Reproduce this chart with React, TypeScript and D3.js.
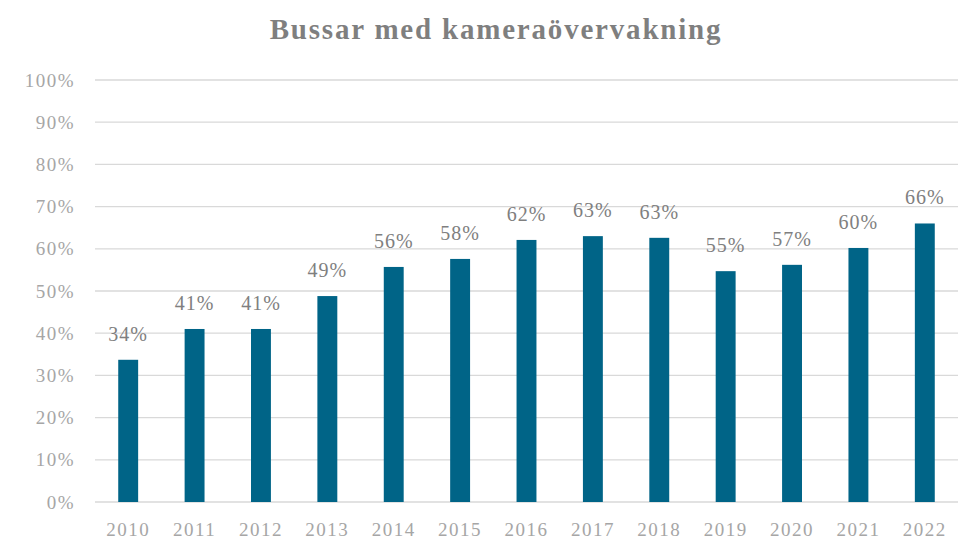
import React from "react";
import * as d3 from "d3";

const years = ["2010","2011","2012","2013","2014","2015","2016","2017","2018","2019","2020","2021","2022"];
const values = [33.7, 41.0, 41.0, 48.8, 55.7, 57.6, 62.1, 63.0, 62.6, 54.7, 56.2, 60.2, 66.0];
const labels = ["34%","41%","41%","49%","56%","58%","62%","63%","63%","55%","57%","60%","66%"];
const yTicks = [0,10,20,30,40,50,60,70,80,90,100];

const W = 960, H = 542;
const left = 95, right = 958, top = 80, bottom = 502;

export default function App() {
  const x = d3.scaleBand<string>().domain(years).range([left, right]).paddingInner(0.7).paddingOuter(0.35);
  const y = d3.scaleLinear().domain([0, 100]).range([bottom, top]);
  const font = "'Liberation Serif', 'DejaVu Serif', serif";
  return (
    <svg width={W} height={H} style={{ position: "absolute", left: 0, top: 0, background: "#fff" }}>
      <text x={496} y={39} textAnchor="middle" fontFamily={font} fontWeight="bold" fontSize={29} letterSpacing={1.8} fill="#7f7f7f">
        Bussar med kameraövervakning
      </text>
      {yTicks.map(t => (
        <g key={t}>
          <line x1={left} x2={right} y1={y(t)} y2={y(t)} stroke="#d9d9d9" strokeWidth={1.3} />
          <text x={75} y={y(t)} dy="0.35em" textAnchor="end" fontFamily={font} fontSize={19} letterSpacing={1.5} fill="#a6a6a6">{t}%</text>
        </g>
      ))}
      {years.map((yr, i) => (
        <g key={yr}>
          <rect x={x(yr)} y={y(values[i])} width={x.bandwidth()} height={bottom - y(values[i])} fill="#006487" />
          <text x={x(yr)! + x.bandwidth() / 2} y={y(values[i]) - 19} textAnchor="middle" fontFamily={font} fontSize={20} letterSpacing={1} fill="#7f7f7f">{labels[i]}</text>
          <text x={x(yr)! + x.bandwidth() / 2} y={536} textAnchor="middle" fontFamily={font} fontSize={19} letterSpacing={1.5} fill="#a6a6a6">{yr}</text>
        </g>
      ))}
    </svg>
  );
}
